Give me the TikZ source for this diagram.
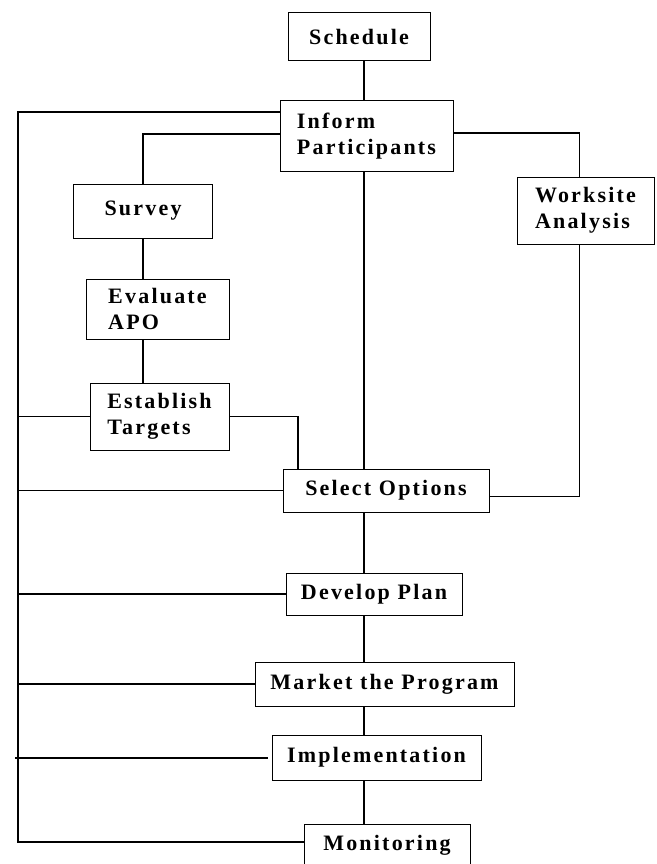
\documentclass[tikz,border=0pt]{standalone}
\usepackage{fontspec}
\setmainfont{Liberation Serif}[LetterSpace=10]
\begin{document}
\begin{tikzpicture}[x=1pt,y=-1pt,
  stepbox/.style={draw,line width=1pt,inner sep=0pt,align=left,
    font=\fontsize{22}{26}\selectfont\bfseries},
  link/.style={line width=1.6pt}]
\useasboundingbox (0,0) rectangle (656,864);
% boxes
\node[stepbox,minimum width=142pt,minimum height=48pt] (sched) at (359,37) {Schedule};
\node[stepbox,minimum width=173pt,minimum height=70pt] (inform) at (366.5,136) {Inform\\Participants};
\node[stepbox,minimum width=139pt,minimum height=54pt] (survey) at (143,211) {Survey};
\node[stepbox,minimum width=143pt,minimum height=60pt] (evalapo) at (157.5,309) {Evaluate\\APO};
\node[stepbox,minimum width=139pt,minimum height=67pt] (target) at (159.5,416.5) {Establish\\Targets};
\node[stepbox,minimum width=137pt,minimum height=67pt] (worksite) at (585.5,210.5) {Worksite\\Analysis};
\node[stepbox,minimum width=206pt,minimum height=43pt] (select) at (386,490.5) {Select Options};
\node[stepbox,minimum width=176pt,minimum height=42pt] (plan) at (374,594) {Develop Plan};
\node[stepbox,minimum width=259pt,minimum height=44pt] (market) at (384.5,684) {Market the Program};
\node[stepbox,minimum width=209pt,minimum height=45pt] (impl) at (376.5,757.5) {Implementation};
\node[stepbox,minimum width=166pt,minimum height=42pt] (monit) at (387,845) {Monitoring};
%
\coordinate (spine) at (364,0);
\coordinate (bustop) at (18,112);
\coordinate (busbot) at (18,842);
% main line
\draw[link] (spine |- sched.south) -- (spine |- inform.north);
\draw[link] (spine |- inform.south) -- (spine |- select.north);
\draw[link] (spine |- select.south) -- (spine |- plan.north);
\draw[link] (spine |- plan.south) -- (spine |- market.north);
\draw[link] (spine |- market.south) -- (spine |- impl.north);
\draw[link] (spine |- impl.south) -- (spine |- monit.north);
% left branch
\draw[link] (inform.west |- 0,134) -| (survey.north);
\draw[link] (survey.south) -- (survey.south |- evalapo.north);
\draw[link] (survey.south |- evalapo.south) -- (survey.south |- target.north);
\draw[link] (target.east) -| (select.north -| 298,0);
% right branch
\draw[link] (inform.east |- 0,133) -| ([xshift=-6pt]worksite.north);
\draw[link] ([xshift=-6pt]worksite.south) |- ([yshift=-6pt]select.east);
% feedback bus
\draw[link] (inform.west |- bustop) -- (bustop) -- (busbot) -- (busbot -| monit.west);
\draw[link] (bustop |- target.west) -- (target.west);
\draw[link] (bustop |- select.west) -- (select.west);
\draw[link] (bustop |- plan.west) -- (plan.west);
\draw[link] (bustop |- market.west) -- (market.west);
\draw[link] (15,758) -- ([xshift=-4pt]impl.west |- 0,758);
\end{tikzpicture}
\end{document}
